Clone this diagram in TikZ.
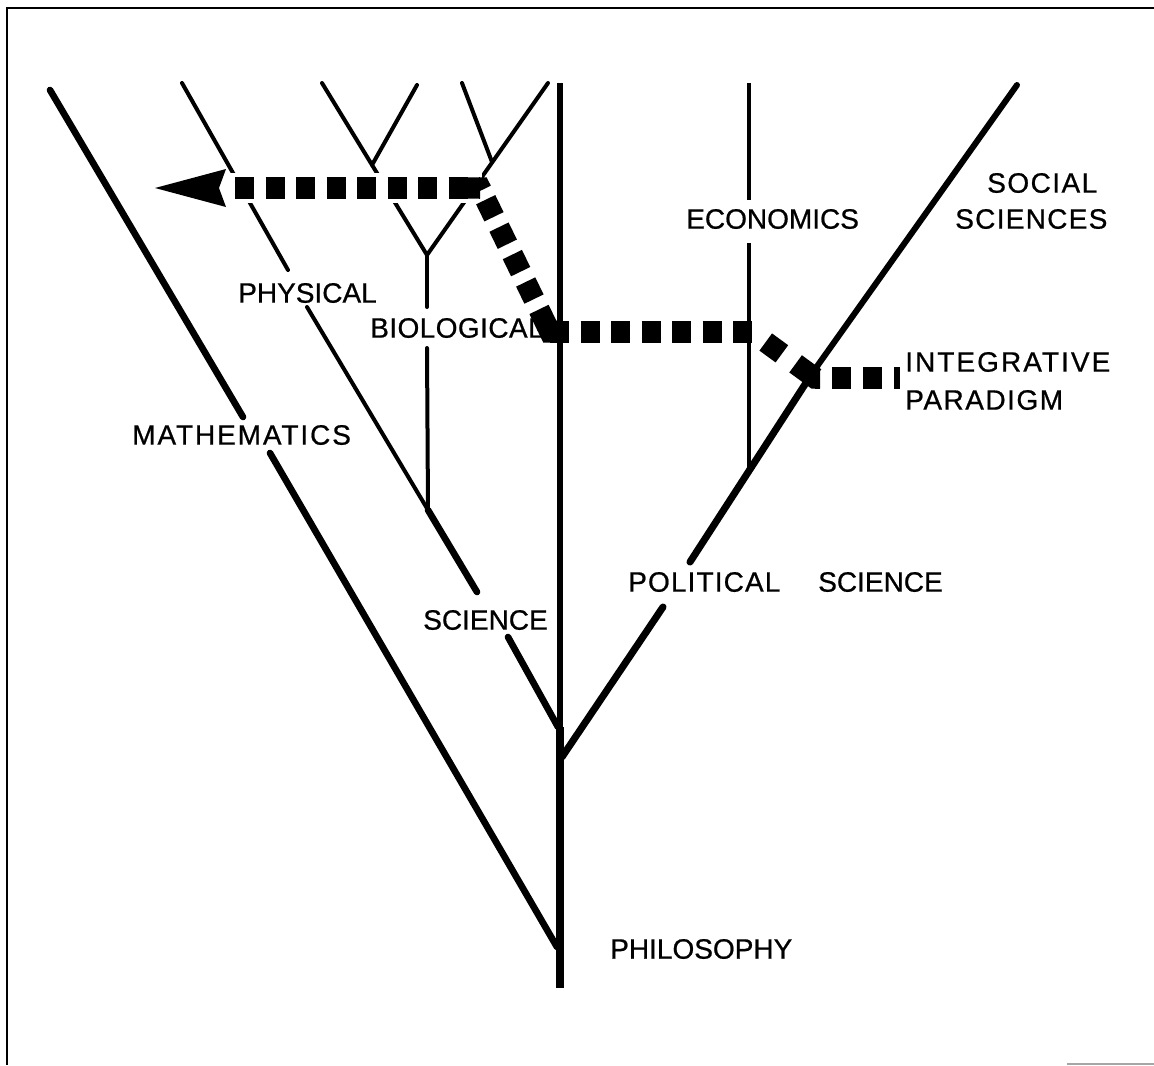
\documentclass[tikz,border=0pt]{standalone}
\usepackage{fontspec}
\setmainfont[FakeBold=0.7]{Liberation Sans}
\usetikzlibrary{calc}
\newcommand{\lsp}[2]{{\addfontfeatures{LetterSpace=#1}#2}}
\begin{document}
\begin{tikzpicture}[x=0.75pt,y=-0.75pt,
  twig/.style={line width=3pt, line cap=round},
  limb/.style={line width=5pt, line cap=round},
  trunkline/.style={line width=3.9pt, line cap=butt},
  trunkbase/.style={line width=5.3pt, line cap=butt},
  frameline/.style={line width=2pt, line cap=butt},
  halo/.style={white, line width=22pt, line cap=butt},
  dsh/.style={line width=16pt, line cap=butt, dash pattern=on 14.25pt off 8.625pt},
  blob/.style={line width=16pt, line cap=butt, line join=miter},
  lbl/.style={inner sep=0pt, anchor=west, font=\fontsize{21}{25}\selectfont}]
\useasboundingbox (0,0) rectangle (1154,1065);

% frame
\coordinate (fbl) at (7,1065);
\coordinate (ftl) at (7,8);
\coordinate (ftr) at (1154,8);
\draw[frameline] (fbl) -- (ftl) -- (ftr);
\coordinate (fb1) at (1067,1064);
\coordinate (fb2) at (1154,1064);
\draw[gray!70, line width=1.1pt] (fb1) -- (fb2);

% tree points
\coordinate (M0) at (50,90);
\coordinate (Ma) at (243,417);
\coordinate (Mb) at (270,453);
\coordinate (M1) at (557,947);
\coordinate (P0) at (182,83);
\coordinate (Pa) at (288,270);
\coordinate (Pb) at (307,307);
\coordinate (PJ) at (428,510);
\coordinate (Pc) at (477,592);
\coordinate (Pd) at (508,637);
\coordinate (T1) at (558,727);
\coordinate (VB) at (427,255);
\coordinate (Ba) at (427,307);
\coordinate (Bb) at (427,348);
\coordinate (VL) at (322,83);
\coordinate (VR) at (548,83);
\coordinate (YL) at (417,85);
\coordinate (YLj) at (372,165);
\coordinate (YR) at (462,83);
\coordinate (YRj) at (492,162);
\coordinate (Ttop) at (560,83);
\coordinate (Tmid) at (560,727);
\coordinate (Tbot) at (560,988);
\coordinate (S0) at (1017,85);
\coordinate (SJ) at (813,372);
\coordinate (Sa) at (690,562);
\coordinate (Sb) at (663,607);
\coordinate (T2) at (562,757);
\coordinate (E0) at (749,83);
\coordinate (Ea) at (749,200);
\coordinate (Eb) at (749,243);
\coordinate (E1) at (749,470);

% mathematics
\draw[limb] (M0) -- (Ma);
\draw[limb] (Mb) -- (M1);
% physical -> science
\draw[twig] (P0) -- (Pa);
\draw[twig] (Pb) -- (PJ);
\draw[limb] (PJ) -- (Pc);
\draw[limb] (Pd) -- (T1);
% biological
\draw[twig] (VB) -- (Ba);
\draw[twig] (Bb) -- (PJ);
\draw[twig] (VL) -- (VB);
\draw[twig] (VR) -- (VB);
\draw[twig] (YL) -- (YLj);
\draw[twig] (YR) -- (YRj);
% trunk
\draw[trunkline] (Ttop) -- (Tmid);
\draw[trunkbase] (Tmid) -- (Tbot);
% social / political
\draw[line width=4.5pt, line cap=round] (S0) -- (SJ);
\draw[limb, line width=5.3pt] (SJ) -- (Sa);
\draw[limb, line width=5.3pt] (Sb) -- (T2);
% economics
\draw[twig, line width=3.6pt, line cap=butt] (E0) -- (Ea);
\draw[twig, line width=3.6pt, line cap=butt] (Eb) -- (E1);

% integrative path
\coordinate (c0) at (235,188);
\coordinate (c1) at (480,188);
\coordinate (c2) at (550,332);
\coordinate (c3) at (752,332);
\coordinate (c4) at (815,378);
\coordinate (c5) at (900,378);
\coordinate (hl) at (228,188);
\coordinate (hr) at (482,188);
\draw[halo] (hl) -- (hr);
\draw[dsh] (c0) -- (c1);
\draw[dsh, dash phase=13.125pt] (c1) -- (c2);
\draw[dsh] (c2) -- (c3);
\draw[dsh, dash pattern=on 15pt off 12.75pt, dash phase=15pt] (c3) -- (c4);
\draw[dsh, dash pattern=on 14.25pt off 9pt, dash phase=10.5pt] (c4) -- (c5);
\draw[blob] ($(c1)!10pt!(c0)$) -- (c1) -- ($(c1)!2pt!(c2)$);
\draw[blob] ($(c2)!6pt!(c1)$) -- (c2) -- ($(c2)!6pt!(c3)$);
\draw[blob] ($(c4)!6pt!(c3)$) -- (c4) -- ($(c4)!3.75pt!(c5)$);
% arrow head
\coordinate (tip) at (155,188);
\fill (tip) -- (226,169) -- (219,188) -- (226,207) -- cycle;

% labels
\node[lbl] (lmath) at (132,435) {\lsp{6.8}{MATHEMATICS}};
\node[lbl] (lphys) at (238,293) {PHYSICAL};
\node[lbl] (lbio) at (370,328) {\lsp{1.5}{BIOLOGICAL}};
\node[lbl] (lsci) at (423,620) {SCIENCE};
\node[lbl] (lpol) at (628,582) {\lsp{4}{POLITICAL}};
\node[lbl] (lsci2) at (818,582) {SCIENCE};
\node[lbl] (lecon) at (686,219) {ECONOMICS};
\node[lbl] (lsoc) at (987,183) {\lsp{5.2}{SOCIAL}};
\node[lbl] (lsocs) at (955,219) {\lsp{4.6}{SCIENCES}};
\node[lbl] (lint) at (905,362) {\lsp{7.3}{INTEGRATIVE}};
\node[lbl] (lpar) at (905,400) {\lsp{5.4}{PARADIGM}};
\node[lbl] (lphil) at (610,949) {PHILOSOPHY};
\end{tikzpicture}
\end{document}
